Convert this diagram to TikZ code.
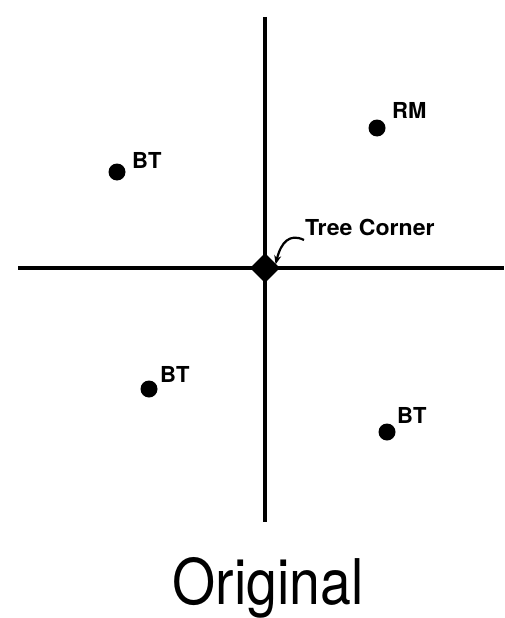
\documentclass[tikz,border=0pt]{standalone}
\usepackage{fontspec}
\setmainfont{TeX Gyre Heros}
\usetikzlibrary{arrows.meta,shapes.geometric}

\begin{document}
\begin{tikzpicture}[
    x=1pt, y=-1pt,
    dot/.style={circle,fill=black,inner sep=0pt,minimum size=17pt},
    lbl/.style={font=\fontsize{22}{22}\selectfont\bfseries,inner sep=0pt,anchor=base west},
    >={Stealth[length=9pt,width=7pt]}
]
\useasboundingbox (0,0) rectangle (504,618);
% Axes
\coordinate (top) at (265,17);
\coordinate (bot) at (265,522);
\coordinate (lft) at (18,268);
\coordinate (rgt) at (504,268);
\draw[line width=4pt] (top) -- (bot);
\draw[line width=4pt] (lft) -- (rgt);
\node[diamond,fill=black,inner sep=0pt,minimum width=30pt,minimum height=30pt] (corner) at (265,268) {};

% Trees
\node[dot] (rm) at (377,128) {};
\node[dot] (bt1) at (117,172) {};
\node[dot] (bt2) at (149,389) {};
\node[dot] (bt3) at (387,432) {};
\node[lbl] (rmlbl) at (392,118) {RM};
\node[lbl] (bt1lbl) at (132,168) {BT};
\node[lbl] (bt2lbl) at (160,382) {BT};
\node[lbl] (bt3lbl) at (397,423) {BT};

% Corner label
\node[lbl,xscale=1.05,transform shape] (tc) at (305,235) {Tree Corner};
\draw[->,line width=2.2pt] ([xshift=-1pt,yshift=-5pt]tc.base west) .. controls (290,233) and (281,242) .. ([xshift=3pt,yshift=-4pt]corner.north east);

% Title
\node[font=\fontsize{63}{63}\selectfont,inner sep=0pt,anchor=base,xscale=0.88,transform shape] (title) at (268,604) {Original};
\end{tikzpicture}
\end{document}
